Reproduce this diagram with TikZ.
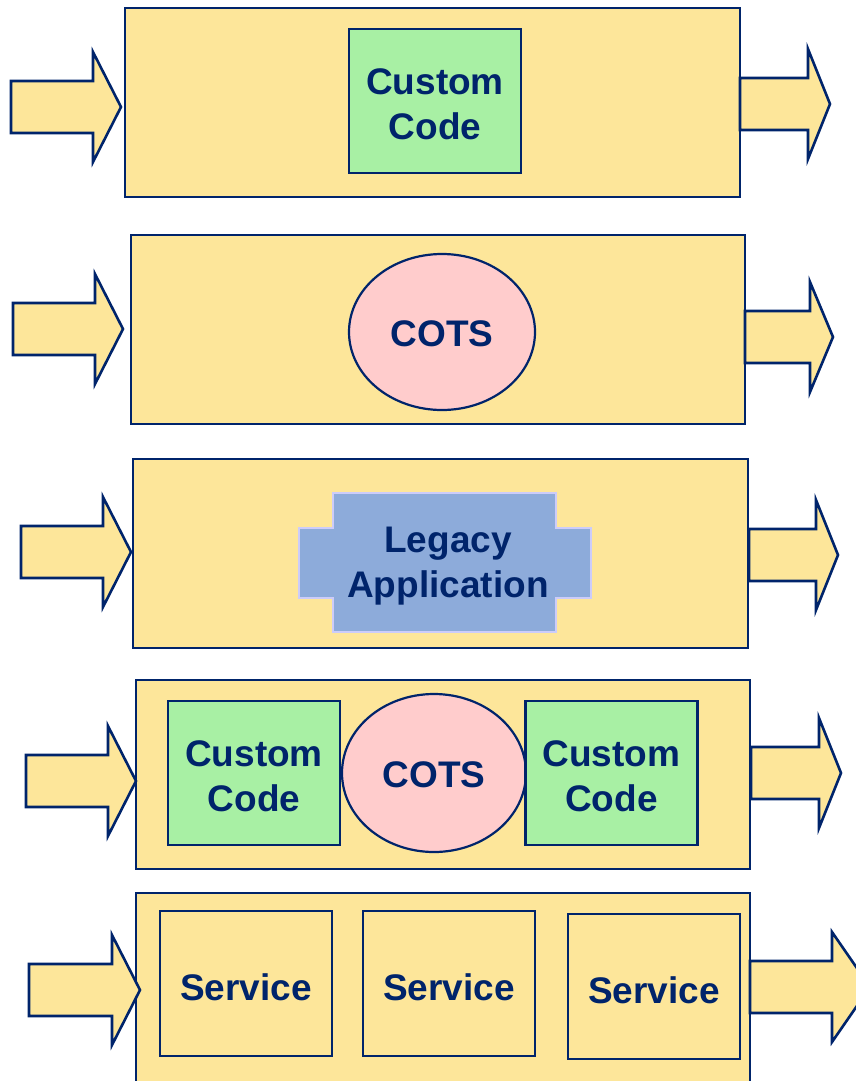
\documentclass[tikz,border=0pt]{standalone}
\usepackage{fontspec}
\setmainfont{Liberation Sans}
\usetikzlibrary{shapes,positioning}
\definecolor{layeryellow}{RGB}{253,230,154}
\definecolor{layernavy}{RGB}{0,36,107}
\definecolor{codegreen}{RGB}{168,240,164}
\definecolor{cotspink}{RGB}{255,204,204}
\definecolor{legacyblue}{RGB}{141,171,218}
\definecolor{legacyrim}{RGB}{204,204,250}

\tikzset{
  layer/.style={draw=layernavy, line width=2.6pt, fill=layeryellow, minimum width=614, minimum height=189},
  codebox/.style={draw=layernavy, line width=2.4pt, fill=codegreen, minimum width=172, minimum height=144},
  cots/.style={draw=layernavy, line width=2.2pt, fill=cotspink, ellipse, inner sep=0pt},
  servicebox/.style={draw=layernavy, line width=2.4pt, fill=layeryellow, minimum width=172, minimum height=145},
  boldtext/.style={text=layernavy, font=\bfseries\fontsize{37}{45}\selectfont, align=center, yshift=-3.5pt},
  flow/.style={draw=layernavy, line width=2.6pt, fill=layeryellow, line join=miter}
}
% block arrow: tail x, head x, tip x, centre y
\newcommand{\flowarrow}[4]{%
  \draw[flow] (#1,#4-26) -- (#2,#4-26) -- (#2,#4-55) -- (#3,#4)
    -- (#2,#4+55) -- (#2,#4+26) -- (#1,#4+26) -- cycle;}

\begin{document}
\begin{tikzpicture}[x=1pt,y=-1pt]
				\useasboundingbox (0,0) rectangle (856,1081);
				
				% Custom code layer
				\node[layer, minimum width=615] (layer1) at (432.5,102.5) {};
				\node[codebox] (code1) at (435,101) {};
				\node[boldtext] at (code1) {Custom\\Code};
				\flowarrow{11}{93}{121}{107}
				\flowarrow{740}{808}{830}{104}
				
				% COTS layer
				\node[layer] (layer2) at (438,329.5) {};
				\node[cots, minimum width=186, minimum height=156] (cots1) at (442,332) {};
				\node[boldtext, yshift=2pt] at (cots1) {COTS};
				\flowarrow{13}{95}{123}{329}
				\flowarrow{745}{810}{833}{337}
				
				% Legacy layer
				\node[layer, minimum width=615] (layer3) at (440.5,553.5) {};
				\draw[legacyrim, line width=1.5pt, fill=legacyblue]
				  (333,493) -- (556,493) -- (556,528) -- (591,528) -- (591,598) -- (556,598)
				  -- (556,632) -- (333,632) -- (333,598) -- (299,598) -- (299,528) -- (333,528) -- cycle;
				\node[boldtext] (legacy) at (448,563) {Legacy\\Application};
				\flowarrow{21}{103}{131}{552}
				\flowarrow{749}{816}{838}{555}
				
				% Mixed layer
				\node[layer] (layer4) at (443,774.5) {};
				\node[codebox] (code2) at (254,773) {};
				\node[cots, minimum width=184, minimum height=158] (cots2) at (434,773) {};
				\node[codebox] (code3) at (611.5,773) {};
				\node[boldtext] at (code2) {Custom\\Code};
				\node[boldtext, yshift=2pt] at (cots2) {COTS};
				\node[boldtext] at (code3) {Custom\\Code};
				\flowarrow{26}{108}{136}{781}
				\flowarrow{751}{819}{841}{773}
				
				% Service layer
				\node[layer] (layer5) at (443,987.5) {};
				\node[servicebox] (svc1) at (246,983.5) {};
				\node[servicebox] (svc2) at (449,983.5) {};
				\node[servicebox] (svc3) at (654,986.5) {};
				\node[boldtext] at (svc1) {Service};
				\node[boldtext] at (svc2) {Service};
				\node[boldtext] at (svc3) {Service};
				\flowarrow{29}{112}{140}{990}
				\flowarrow{750}{832}{870}{987}
			\end{tikzpicture}
\end{document}
